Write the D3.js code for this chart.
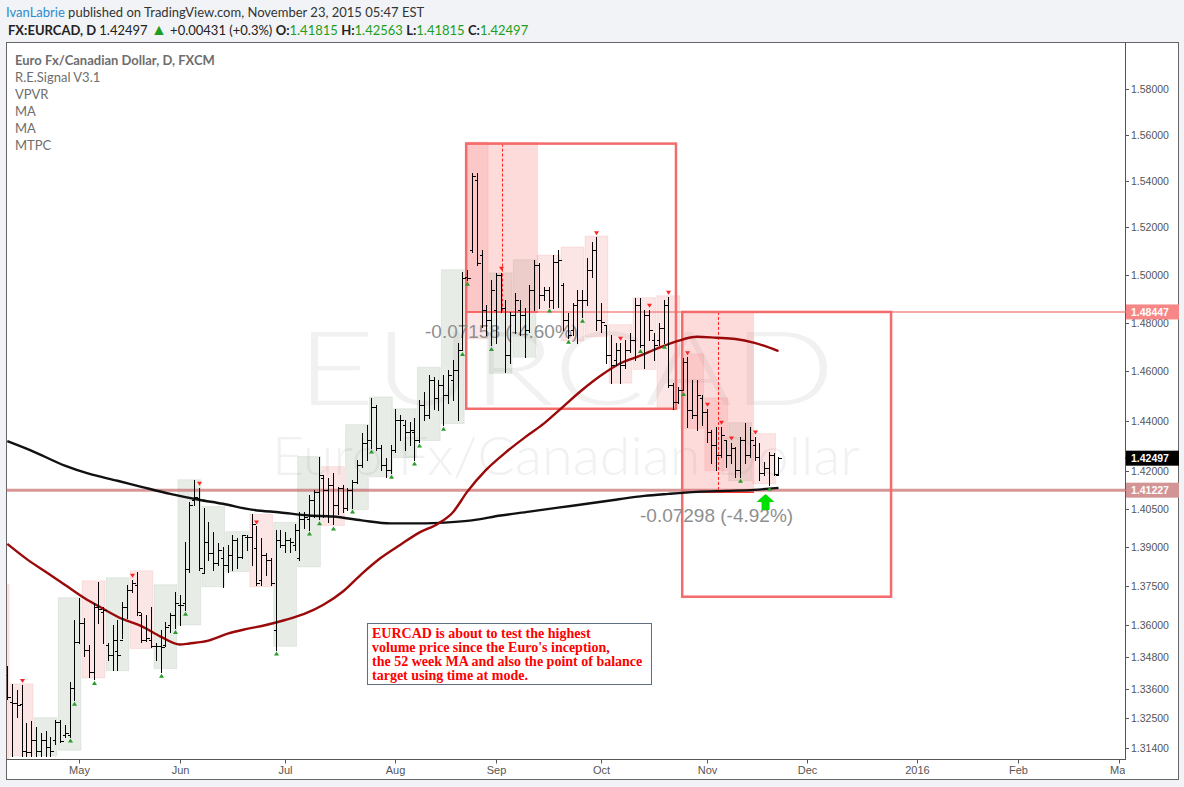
<!DOCTYPE html>
<html>
<head>
<meta charset="utf-8">
<script src="https://cdnjs.cloudflare.com/ajax/libs/d3/7.8.5/d3.min.js"></script>
<style>
body { margin: 0; background: #f1f3f6; }
svg { display: block; }
</style>
</head>
<body>
<svg width="1184" height="787"></svg>
<script>
// Bars, one per weekday starting Apr 10 2015
var firstDay = new Date(2015, 3, 10);
var opens = [1.3412,1.3311,1.3307,1.3304,1.3129,1.3125,1.3171,1.3129,1.3171,1.3143,
1.3171,1.3237,1.3189,1.3189,1.3363,1.3537,1.3608,1.3507,1.3423,1.3669,
1.3650,1.3526,1.3488,1.3500,1.3544,1.3669,1.3735,1.3754,1.3638,1.3544,
1.3544,1.3522,1.3519,1.3526,1.3600,1.3638,1.3677,1.3685,1.3815,1.4085,
1.4092,1.3800,1.3920,1.3877,1.3838,1.3858,1.3831,1.3869,1.3928,1.3862,
1.3940,1.3940,1.3896,1.3773,1.3869,1.3850,1.3581,1.3928,1.3908,1.3928,
1.3908,1.3858,1.4008,1.4008,1.4085,1.4116,1.4172,1.4124,1.4144,1.4065,
1.4132,1.4054,1.4124,1.4156,1.4224,1.4312,1.4324,1.4456,1.4292,1.4224,
1.4204,1.4284,1.4404,1.4384,1.4356,1.4356,1.4324,1.4464,1.4424,1.4564,
1.4492,1.4544,1.4504,1.4564,1.4604,1.4688,1.4992,1.5104,1.5404,1.5083,
1.4854,1.4813,1.4854,1.5000,1.4863,1.4667,1.4833,1.4854,1.4833,1.4771,
1.4938,1.5042,1.4917,1.4938,1.4896,1.5054,1.4958,1.4813,1.4771,1.4875,
1.4896,1.4896,1.5021,1.5104,1.4813,1.4792,1.4667,1.4646,1.4688,1.4625,
1.4688,1.4729,1.4875,1.4708,1.4833,1.4729,1.4729,1.4779,1.4875,1.4544,
1.4476,1.4524,1.4638,1.4444,1.4424,1.4492,1.4436,1.4356,1.4304,1.4264,
1.4324,1.4264,1.4292,1.4204,1.4324,1.4264,1.4304,1.4256,1.4192,1.4212,
1.4264,1.41815];
var highs = [1.3446,1.3378,1.3356,1.3374,1.3233,1.3241,1.3219,1.3196,1.3204,1.3182,
1.3244,1.3244,1.3226,1.3385,1.3619,1.3704,1.3627,1.3526,1.3685,1.3765,
1.3669,1.3533,1.3600,1.3619,1.3688,1.3754,1.3773,1.3804,1.3646,1.3638,
1.3669,1.3530,1.3581,1.3612,1.3646,1.3727,1.3715,1.3920,1.4077,1.4164,
1.4132,1.4054,1.3996,1.3960,1.3916,1.3900,1.3908,1.3948,1.3936,1.3948,
1.3948,1.4027,1.3980,1.3936,1.3877,1.3858,1.3968,1.3968,1.3960,1.3936,
1.3988,1.4035,1.4035,1.4104,1.4124,1.4256,1.4184,1.4172,1.4192,1.4136,
1.4144,1.4132,1.4164,1.4244,1.4352,1.4384,1.4492,1.4464,1.4304,1.4252,
1.4304,1.4448,1.4424,1.4404,1.4396,1.4412,1.4484,1.4516,1.4584,1.4576,
1.4564,1.4584,1.4604,1.4646,1.4717,1.5013,1.5021,1.5435,1.5435,1.5104,
1.4875,1.4979,1.5008,1.5008,1.4896,1.4846,1.4925,1.4896,1.4863,1.4958,
1.5063,1.5050,1.4950,1.4950,1.5083,1.5104,1.4967,1.4842,1.4883,1.4938,
1.4938,1.5071,1.5138,1.5158,1.4883,1.4792,1.4750,1.4717,1.4717,1.4729,
1.4758,1.4904,1.4904,1.4854,1.4854,1.4758,1.4800,1.4896,1.4908,1.4552,
1.4536,1.4654,1.4658,1.4564,1.4564,1.4504,1.4448,1.4364,1.4376,1.4376,
1.4324,1.4312,1.4296,1.4336,1.4392,1.4376,1.4336,1.4312,1.4236,1.4276,
1.4272,1.42563];
var lows = [1.3322,1.3111,1.3256,1.3111,1.3111,1.3111,1.3111,1.3111,1.3111,1.3111,
1.3154,1.3161,1.3182,1.3182,1.3319,1.3533,1.3481,1.3404,1.3396,1.3608,
1.3533,1.3469,1.3431,1.3431,1.3552,1.3627,1.3727,1.3638,1.3537,1.3541,
1.3515,1.3469,1.3423,1.3519,1.3574,1.3589,1.3600,1.3658,1.3804,1.4065,
1.3812,1.3800,1.3850,1.3812,1.3831,1.3746,1.3804,1.3812,1.3819,1.3858,
1.3888,1.3831,1.3754,1.3754,1.3792,1.3754,1.3507,1.3900,1.3881,1.3881,
1.3888,1.3850,1.3976,1.3968,1.4019,1.4008,1.4019,1.3996,1.3988,1.4027,
1.4038,1.4046,1.4054,1.4152,1.4216,1.4244,1.4292,1.4284,1.4204,1.4176,
1.4192,1.4276,1.4324,1.4284,1.4304,1.4244,1.4316,1.4404,1.4412,1.4448,
1.4444,1.4384,1.4472,1.4484,1.4404,1.4688,1.4979,1.5096,1.5042,1.4783,
1.4750,1.4708,1.4717,1.4846,1.4596,1.4633,1.4758,1.4750,1.4658,1.4763,
1.4854,1.4863,1.4896,1.4867,1.4863,1.4867,1.4771,1.4738,1.4750,1.4717,
1.4825,1.4875,1.4992,1.4771,1.4763,1.4633,1.4552,1.4625,1.4552,1.4613,
1.4679,1.4646,1.4700,1.4613,1.4729,1.4646,1.4708,1.4717,1.4536,1.4448,
1.4472,1.4524,1.4376,1.4412,1.4364,1.4384,1.4316,1.4232,1.4204,1.4256,
1.4216,1.4232,1.4176,1.4176,1.4232,1.4256,1.4244,1.4164,1.4184,1.4144,
1.4184,1.41815];
var closes = [1.3330,1.3307,1.3300,1.3129,1.3125,1.3171,1.3129,1.3171,1.3143,1.3129,
1.3237,1.3164,1.3196,1.3363,1.3537,1.3608,1.3507,1.3423,1.3669,1.3662,
1.3658,1.3488,1.3544,1.3485,1.3669,1.3735,1.3762,1.3650,1.3544,1.3552,
1.3522,1.3519,1.3515,1.3593,1.3638,1.3685,1.3677,1.3815,1.4065,1.4096,
1.3819,1.3920,1.3877,1.3838,1.3888,1.3831,1.3869,1.3928,1.3862,1.3948,
1.3940,1.3988,1.3762,1.3869,1.3850,1.3762,1.3928,1.3908,1.3928,1.3920,
1.3968,1.4008,1.4019,1.4085,1.4116,1.4184,1.4124,1.4144,1.4065,1.4132,
1.4054,1.4124,1.4156,1.4224,1.4312,1.4324,1.4456,1.4292,1.4224,1.4204,
1.4284,1.4404,1.4404,1.4356,1.4364,1.4324,1.4464,1.4424,1.4564,1.4492,
1.4544,1.4504,1.4584,1.4604,1.4688,1.4988,1.4988,1.5422,1.5050,1.4854,
1.4813,1.4938,1.5000,1.4863,1.4667,1.4833,1.4896,1.4833,1.4771,1.4938,
1.5042,1.4917,1.4938,1.4896,1.5054,1.5063,1.4813,1.4750,1.4875,1.4896,
1.4896,1.5021,1.5104,1.4813,1.4804,1.4667,1.4625,1.4688,1.4625,1.4688,
1.4729,1.4875,1.4708,1.4833,1.4771,1.4708,1.4779,1.4875,1.4544,1.4476,
1.4524,1.4638,1.4444,1.4424,1.4504,1.4436,1.4356,1.4304,1.4264,1.4344,
1.4264,1.4292,1.4204,1.4324,1.4264,1.4324,1.4256,1.4192,1.4212,1.4264,
1.4188,1.42497];

// Moving averages, read at a few bars
var redMaIdx = [0,4,8,12,16,20,24,28,32,36,38,42,46,50,54,58,62,66,70,74,78,82,86,90,93,96,100,104,108,112,116,120,124,128,132,136,140,144,148,152,156,161];
var redMa = [1.3912,1.3854,1.3804,1.3754,1.3704,1.3662,1.3623,1.3596,1.3556,1.3526,1.3530,1.3541,1.3567,1.3585,1.3600,1.3619,1.3642,1.3677,1.3727,1.3796,1.3858,1.3908,1.3956,1.3992,1.4035,1.4116,1.4204,1.4272,1.4332,1.4388,1.4456,1.4524,1.4584,1.4633,1.4663,1.4696,1.4725,1.4742,1.4738,1.4733,1.4717,1.4683];
var blackMaIdx = [0,5,12,17,23,28,34,40,45,51,57,63,68,74,80,86,92,97,103,109,115,121,127,133,138,144,150,156,161];
var blackMa = [1.4318,1.4280,1.4220,1.4188,1.4160,1.4136,1.4108,1.4085,1.4069,1.4046,1.4035,1.4023,1.4019,1.4004,1.3992,1.3992,1.3996,1.4004,1.4023,1.4038,1.4054,1.4069,1.4085,1.4100,1.4108,1.4116,1.4120,1.4124,1.4132];

// Weekly boxes (first bar index, high, low, colour)
var weekStart = [-4,1,6,11,16,21,26,31,36,41,46,51,56,61,66,71,76,81,86,91,96,101,106,111,116,121,126,131,136,141,146,151,156];
var weekHi = [1.3754,1.3378,1.3252,1.3704,1.3769,1.3781,1.3808,1.3754,1.4164,1.4058,1.3960,1.4027,1.3996,1.4256,1.4216,1.4384,1.4496,1.4448,1.4617,1.5021,1.5567,1.5008,1.5063,1.5083,1.5117,1.5163,1.4792,1.4904,1.4912,1.4671,1.4492,1.4392,1.4348];
var weekLo = [1.3100,1.3111,1.3111,1.3132,1.3400,1.3427,1.3511,1.3435,1.3600,1.3746,1.3804,1.3746,1.3519,1.3823,1.3984,1.4046,1.4176,1.4252,1.4320,1.4388,1.4733,1.4592,1.4658,1.4846,1.4725,1.4742,1.4552,1.4608,1.4448,1.4368,1.4200,1.4160,1.4148];
var weekUp = [0,0,1,1,0,1,0,1,1,1,1,0,1,1,0,1,1,1,1,1,0,1,1,0,0,0,0,0,0,0,0,1,0];

// Signal markers
var downSignals = [3,26,40,52,103,123,128,134,138,142,146,149,151,156];
var upSignals = [13,14,18,32,35,37,56,63,65,68,72,76,80,85,86,91,95,96,101,113,117,120,132,137,141,153,159];

// Drawings: [startIdx, endIdx, top, bottom, dashed line idx]
var mtpcBoxes = [[95.8, 110.8, 1.55605, 1.48447, 103.3], [141.1, 155.9, 1.48447, 1.41149, 148.4]];
var redRects = [[95.8, 139.6, 1.55605, 1.4448], [140.9, 184.5, 1.48447, 1.3708]];
var changeLabels = ["-0.07158 (-4.60%)", "-0.07298 (-4.92%)"];
var levels = [1.48447, 1.41227];
var lastPrice = 1.42497;

var priceTicks = [1.58, 1.56, 1.54, 1.52, 1.50, 1.48, 1.46, 1.44, 1.42, 1.405, 1.39, 1.375, 1.36, 1.348, 1.336, 1.325, 1.314];
var noteLines = ["EURCAD is about to test the highest", "volume price since the Euro's inception,", "the 52 week MA and also the point of balance", "target using time at mode."];

var svg = d3.select("svg");
var plotLeft = 6, plotRight = 1125, plotTop = 42, plotBottom = 759.5;
var uiFont = "Lato, 'Open Sans', sans-serif";
var axisFont = "'Liberation Sans', Arial, sans-serif";

var x = d3.scaleLinear().domain([0, 100]).range([7.3, 486.3]);
var y = d3.scaleLog().domain([1.58, 1.314]).range([89, 748]);
var px = (i) => Math.round(x(i)) + 0.5;

var bars = opens.map((o, i) => ({ i: i, o: o, h: highs[i], l: lows[i], c: closes[i] }));

// weekdays for the time axis
var days = d3.timeDay.range(firstDay, new Date(2016, 2, 8)).filter((d) => d.getDay() % 6 != 0);

// Header
var head = svg.append("text").attr("x", 6).attr("y", 17)
	.style("font-family", uiFont).style("font-size", "13px").attr("fill", "#333");
head.append("tspan").attr("fill", "#2d8ccf").text("IvanLabrie");
head.append("tspan").text(" published on TradingView.com, November 23, 2015 05:47 EST");

var head2 = svg.append("text").attr("x", 8).attr("y", 35)
	.style("font-family", uiFont).style("font-size", "13px").attr("fill", "#222");
head2.append("tspan").attr("font-weight", "bold").text("FX:EURCAD, D ");
head2.append("tspan").text("1.42497 ");
head2.append("tspan").attr("fill", "#1e9e1e").style("font-size", "16px").text("\u25B2");
head2.append("tspan").text(" +0.00431 (+0.3%) ");
[["O:", "1.41815"], ["H:", "1.42563"], ["L:", "1.41815"], ["C:", "1.42497"]].forEach((p) => {
	head2.append("tspan").attr("font-weight", "bold").text(p[0]);
	head2.append("tspan").attr("fill", "#1e9e1e").text(p[1] + " ");
});

// Chart frame
svg.append("rect")
	.attr("x", 6.5).attr("y", 42.5).attr("width", 1172).attr("height", 737)
	.attr("fill", "#fff").attr("stroke", "#666");

svg.append("clipPath").attr("id", "plot")
	.append("rect").attr("x", plotLeft + 0.5).attr("y", plotTop + 1)
	.attr("width", plotRight - plotLeft - 0.5).attr("height", plotBottom - plotTop - 1);

var plot = svg.append("g").attr("clip-path", "url(#plot)");

// Watermark
plot.append("text").attr("x", 297).attr("y", 405).attr("textLength", 538).attr("lengthAdjust", "spacingAndGlyphs")
	.style("font-family", uiFont).style("font-weight", 300).style("font-size", "102px")
	.attr("fill", "#f1f1f1").text("EURCAD");
plot.append("text").attr("x", 272).attr("y", 475).attr("textLength", 588).attr("lengthAdjust", "spacingAndGlyphs")
	.style("font-family", uiFont).style("font-weight", 300).style("font-size", "54px")
	.attr("fill", "#f1f1f1").text("Euro Fx/Canadian Dollar");

// Weekly boxes
plot.append("g").selectAll("rect")
	.data(weekStart)
	.enter().append("rect")
	.attr("x", (d) => x(d) - 1.8)
	.attr("width", (d) => x(d + 4) - x(d) + 3.6)
	.attr("y", (d, k) => y(weekHi[k]))
	.attr("height", (d, k) => y(weekLo[k]) - y(weekHi[k]))
	.attr("fill", (d, k) => weekUp[k] ? "rgba(110,140,110,0.17)" : "rgba(235,110,110,0.18)")
	.attr("stroke", (d, k) => weekUp[k] ? "rgba(110,140,110,0.12)" : "rgba(235,110,110,0.14)");

// Time at mode boxes
var mtpc = plot.append("g");
mtpcBoxes.forEach((b) => {
	mtpc.append("rect")
		.attr("x", x(b[0])).attr("width", x(b[1]) - x(b[0]))
		.attr("y", y(b[2])).attr("height", y(b[3]) - y(b[2]))
		.attr("fill", "rgba(250,110,110,0.25)");
	mtpc.append("line")
		.attr("x1", px(b[4])).attr("x2", px(b[4])).attr("y1", y(b[2])).attr("y2", y(b[3]))
		.attr("stroke", "#f22").attr("stroke-dasharray", "3,2");
});

// Horizontal levels
plot.append("line")
	.attr("x1", x(95.8)).attr("x2", plotRight).attr("y1", y(levels[0])).attr("y2", y(levels[0]))
	.attr("stroke", "rgba(245,110,110,0.6)").attr("stroke-width", 2);
plot.append("line")
	.attr("x1", plotLeft).attr("x2", plotRight).attr("y1", y(levels[1])).attr("y2", y(levels[1]))
	.attr("stroke", "rgba(195,95,95,0.65)").attr("stroke-width", 3);

mtpcBoxes.forEach((b) => {
	[b[2], b[3]].forEach((p) => {
		mtpc.append("line")
			.attr("x1", x(b[0])).attr("x2", x(b[1])).attr("y1", y(p)).attr("y2", y(p))
			.attr("stroke", "#f33").attr("stroke-width", 1.5);
	});
});

// Outlined rectangles
plot.append("g").selectAll("rect")
	.data(redRects)
	.enter().append("rect")
	.attr("x", (d) => x(d[0])).attr("width", (d) => x(d[1]) - x(d[0]))
	.attr("y", (d) => y(d[2])).attr("height", (d) => y(d[3]) - y(d[2]))
	.attr("fill", "none").attr("stroke", "#f36b6b").attr("stroke-width", 2.5);

// Change labels
plot.append("text").attr("x", 425).attr("y", y(1.4738))
	.style("font-family", axisFont).style("font-size", "19px").attr("fill", "#8f8f8f")
	.text(changeLabels[0]);
plot.append("text").attr("x", 640).attr("y", y(1.3998))
	.style("font-family", axisFont).style("font-size", "19px").attr("fill", "#8f8f8f")
	.text(changeLabels[1]);

// Moving averages
var maLine = d3.line().curve(d3.curveMonotoneX);
plot.append("path")
	.attr("d", maLine(blackMaIdx.map((d, k) => [x(d), y(blackMa[k])])))
	.attr("fill", "none").attr("stroke", "#111").attr("stroke-width", 2.4);
plot.append("path")
	.attr("d", maLine(redMaIdx.map((d, k) => [x(d), y(redMa[k])])))
	.attr("fill", "none").attr("stroke", "#9a0a0a").attr("stroke-width", 2.4);

// OHLC bars
var bar = plot.append("g").attr("stroke", "#000").attr("stroke-width", 1).style("shape-rendering", "crispEdges")
	.selectAll("g").data(bars).enter().append("g");
bar.append("line")
	.attr("x1", (d) => px(d.i)).attr("x2", (d) => px(d.i))
	.attr("y1", (d) => Math.round(y(d.h))).attr("y2", (d) => Math.round(y(d.l)) + 1);
bar.append("line")
	.attr("x1", (d) => px(d.i) - 3).attr("x2", (d) => px(d.i))
	.attr("y1", (d) => Math.round(y(d.o)) + 0.5).attr("y2", (d) => Math.round(y(d.o)) + 0.5);
bar.append("line")
	.attr("x1", (d) => px(d.i)).attr("x2", (d) => px(d.i) + 3)
	.attr("y1", (d) => Math.round(y(d.c)) + 0.5).attr("y2", (d) => Math.round(y(d.c)) + 0.5);

// Signals
plot.append("g").selectAll("path")
	.data(downSignals)
	.enter().append("path")
	.attr("d", (d) => "M" + (px(d) - 2.5) + "," + (y(highs[d]) - 6) + "h5l-2.5,4z")
	.attr("fill", "#f22");
plot.append("g").selectAll("path")
	.data(upSignals)
	.enter().append("path")
	.attr("d", (d) => "M" + (px(d) - 2.5) + "," + (y(lows[d]) + 6) + "h5l-2.5,-4z")
	.attr("fill", "#2a9a2a");

// Green arrow under the last week
var ax = x(158.3), ay = y(1.4108);
plot.append("path")
	.attr("d", "M" + ax + "," + ay + "l9,8h-5v8h-8v-8h-5z")
	.attr("fill", "#00e000");

// Legend
var legend = svg.append("g").style("font-family", uiFont).style("font-size", "13px").attr("fill", "#6e6e6e");
["Euro Fx/Canadian Dollar, D, FXCM", "R.E.Signal V3.1", "VPVR", "MA", "MA", "MTPC"].forEach((t, k) => {
	legend.append("text").attr("x", 15).attr("y", 65 + k * 17)
		.attr("font-weight", k == 0 ? "bold" : "normal").text(t);
});

// Price axis
svg.append("line").attr("x1", plotRight + 0.5).attr("x2", plotRight + 0.5).attr("y1", plotTop).attr("y2", plotBottom)
	.attr("stroke", "#555");
var yAxis = svg.append("g").style("font-family", axisFont).style("font-size", "10.5px");
priceTicks.forEach((p) => {
	yAxis.append("line").attr("x1", plotRight).attr("x2", plotRight + 4)
		.attr("y1", Math.round(y(p)) + 0.5).attr("y2", Math.round(y(p)) + 0.5).attr("stroke", "#555");
	yAxis.append("text").attr("x", plotRight + 6).attr("y", y(p) + 4).attr("fill", "#555")
		.text(d3.format(".5f")(p));
});

// Price tags
[[levels[0], "#f78787"], [levels[1], "#d29494"], [lastPrice, "#000"]].forEach((t) => {
	var ty = y(t[0]);
	svg.append("rect").attr("x", plotRight + 1).attr("y", ty - 7.5).attr("width", 53).attr("height", 15).attr("fill", t[1]);
	svg.append("line").attr("x1", plotRight).attr("x2", plotRight + 4).attr("y1", ty).attr("y2", ty).attr("stroke", t[1]);
	svg.append("text").attr("x", plotRight + 6).attr("y", ty + 4)
		.style("font-family", axisFont).style("font-size", "10.5px").attr("font-weight", "bold")
		.attr("fill", "#fff").text(d3.format(".5f")(t[0]));
});

// Time axis
svg.append("line").attr("x1", plotLeft).attr("x2", plotRight + 1).attr("y1", plotBottom).attr("y2", plotBottom).attr("stroke", "#555");
svg.append("clipPath").attr("id", "timeaxis")
	.append("rect").attr("x", plotLeft).attr("y", plotBottom).attr("width", plotRight - plotLeft).attr("height", 21);
var xAxis = svg.append("g").attr("clip-path", "url(#timeaxis)")
	.style("font-family", axisFont).style("font-size", "11px");
days.forEach((d, i) => {
	if (i == 0 || d.getMonth() == days[i - 1].getMonth()) return;
	var tx = px(i);
	xAxis.append("line").attr("x1", tx).attr("x2", tx).attr("y1", plotBottom).attr("y2", plotBottom + 4).attr("stroke", "#555");
	xAxis.append("text").attr("x", tx).attr("y", 774).attr("text-anchor", "middle").attr("fill", "#555")
		.text(d.getMonth() == 0 ? d3.timeFormat("%Y")(d) : d3.timeFormat("%b")(d));
});

// Note box
svg.append("rect").attr("x", 367.5).attr("y", 623.5).attr("width", 284).attr("height", 61)
	.attr("fill", "#fff").attr("stroke", "#5d6f80");
noteLines.forEach((t, k) => {
	svg.append("text").attr("x", 372).attr("y", 638 + k * 14)
		.style("font-family", "'Liberation Serif', 'Times New Roman', serif").style("font-size", "14px")
		.attr("font-weight", "bold").attr("fill", "#f00").text(t);
});
</script>
</body>
</html>
